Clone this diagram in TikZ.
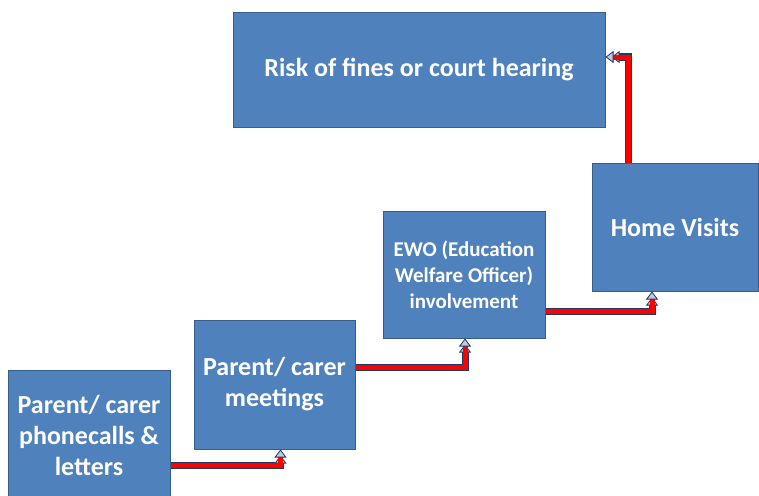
\documentclass[tikz,border=0pt]{standalone}
\usepackage{fontspec}
\setmainfont{Carlito}
\usetikzlibrary{arrows.meta}
\definecolor{boxblue}{HTML}{4F81BD}
\definecolor{boxedge}{HTML}{385D8A}
\definecolor{linkedge}{HTML}{1F3864}

\begin{document}
\begin{tikzpicture}[x=1pt, y=-1pt,
    stepbox/.style={draw=boxedge, fill=boxblue, line width=1pt, rectangle, text=white, font=\bfseries, align=center, inner sep=4pt},
    link/.style={red, line width=5pt,
        preaction={draw=linkedge, line width=7pt, shorten >=6pt},
        -{Triangle[length=8pt, width=12pt, line width=0.8pt, fill=boxblue!40!white, color=linkedge]}}]
\useasboundingbox (0,0) rectangle (759,495);
\node[stepbox, minimum width=162pt, minimum height=130pt, font=\bfseries\fontsize{26}{31}\selectfont] (calls) at (89,435) {Parent/ carer\\phonecalls \&\\letters};
\node[stepbox, minimum width=161pt, minimum height=129pt, font=\bfseries\fontsize{26}{31}\selectfont] (meet) at (274.5,384.5) {Parent/ carer\\meetings};
\node[stepbox, minimum width=162pt, minimum height=127pt, font=\bfseries\fontsize{21}{26}\selectfont] (ewo) at (464,274.5) {EWO (Education\\Welfare Officer)\\involvement};
\node[stepbox, minimum width=166pt, minimum height=128pt, font=\bfseries\fontsize{26}{31}\selectfont] (visit) at (675,227) {Home Visits};
\node[stepbox, minimum width=372pt, minimum height=114pt, font=\bfseries\fontsize{26}{31}\selectfont] (risk) at (419,70) {Risk of fines or court hearing};

\draw[link] ([yshift=-30pt]calls.east) -| ([xshift=6pt]meet.south);
\draw[link] ([yshift=17pt]meet.east) -| ([xshift=1pt]ewo.south);
\draw[link] ([yshift=-37pt]ewo.east) -| ([xshift=-23pt]visit.south);
\draw[link] ([xshift=-47pt]visit.north) |- ([yshift=13pt]risk.east);
\end{tikzpicture}
\end{document}
